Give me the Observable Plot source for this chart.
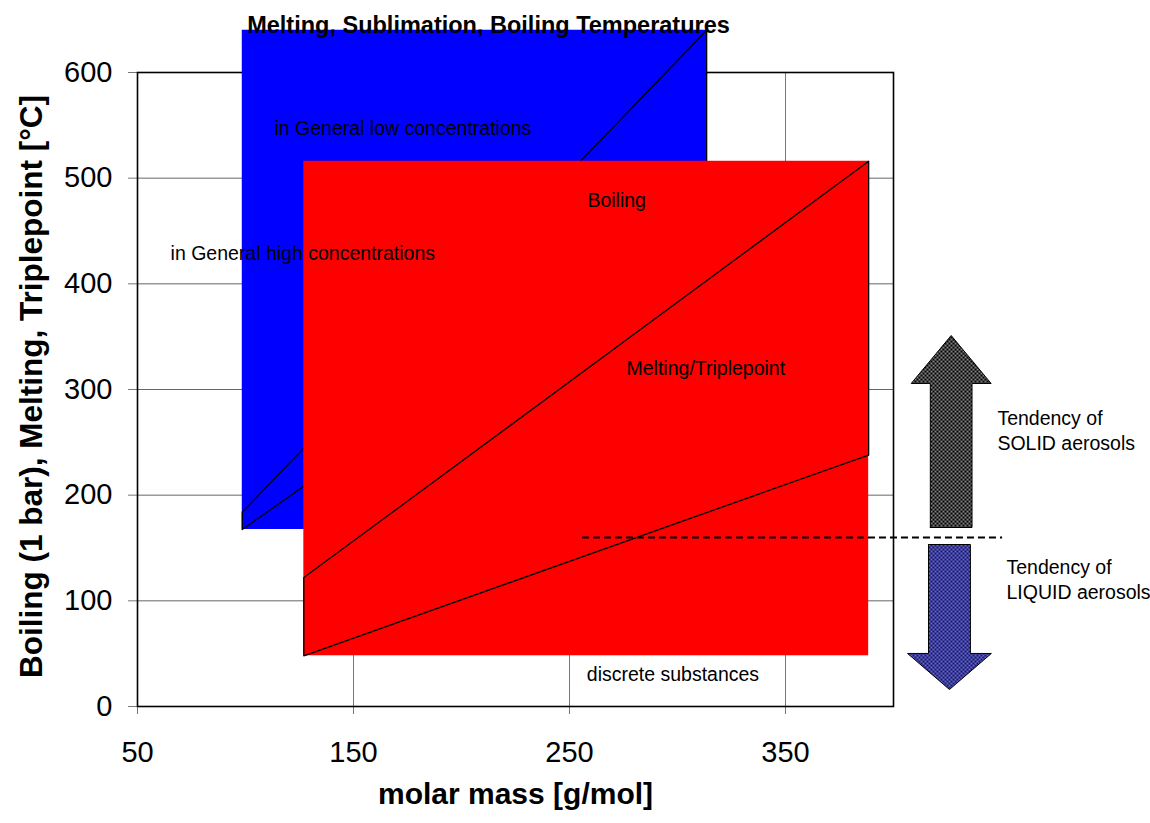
<!DOCTYPE html>
<html><head><meta charset="utf-8">
<script src="https://cdn.jsdelivr.net/npm/d3@7"></script>
<script src="https://cdn.jsdelivr.net/npm/@observablehq/plot@0.6"></script>
<style>
body{margin:0;background:#fff;}
#chart{position:absolute;left:0;top:0;}
</style></head><body><div id="chart"></div>
<script>
// ---- data ----
const xTicks = [50, 150, 250, 350];
const yTicks = [0, 100, 200, 300, 400, 500, 600];
const titleText = "Melting, Sublimation, Boiling Temperatures";
const xTitle = "molar mass [g/mol]";
const yTitle = "Boiling (1 bar), Melting, Triplepoint [\u00B0C]";

// concentration regions (molar mass range x temperature range)
const lowRegion = {x1: 98.5, x2: 313.5, y1: 167.5, y2: 640};
const highRegion = {x1: 127, x2: 388.5, y1: 48, y2: 516};
const regionColors = ["#0000ff", "#ff0000"];

// boiling / melting lines of each region
const boilingLow = [{x: 98.5, y: 184}, {x: 313.5, y: 640}];
const meltingLow = [{x: 98.5, y: 167.5}, {x: 313.5, y: 477}];
const boilingHigh = [{x: 127, y: 122}, {x: 388.5, y: 516}];
const meltingHigh = [{x: 127, y: 48}, {x: 388.5, y: 238}];

// solid/liquid threshold
const threshold = [{y: 160, x1: 256, x2: 450.5}];

// tendency arrows
const arrows = [
  {name: "solid", x: 426.7, base: 169.4, headBase: 305.7, tip: 351.1, shaftHalf: 9.65, headHalf: 18.5, fill: "url(#patGray)"},
  {name: "liquid", x: 425.9, base: 153.3, headBase: 50.2, tip: 16.1, shaftHalf: 9.7, headHalf: 19.4, fill: "url(#patBlue)"}
];

const labels = [
  {text: "in General low concentrations", x: 113.4, y: 547},
  {text: "in General high concentrations", x: 65.3, y: 428},
  {text: "Boiling", x: 258.3, y: 479},
  {text: "Melting/Triplepoint", x: 276.4, y: 320},
  {text: "discrete substances", x: 258, y: 30.3},
  {text: "Tendency of", x: 448.1, y: 272},
  {text: "SOLID aerosols", x: 448.1, y: 249},
  {text: "Tendency of", x: 452.3, y: 131.5},
  {text: "LIQUID aerosols", x: 452.3, y: 107.5}
];

// ---- derived shapes ----
const outline = (b, m) => [b[0], b[1], m[1], m[0], b[0]];
const arrowShape = (a) => [
  {x: a.x - a.shaftHalf, y: a.base},
  {x: a.x - a.shaftHalf, y: a.headBase},
  {x: a.x - a.headHalf, y: a.headBase},
  {x: a.x, y: a.tip},
  {x: a.x + a.headHalf, y: a.headBase},
  {x: a.x + a.shaftHalf, y: a.headBase},
  {x: a.x + a.shaftHalf, y: a.base},
  {x: a.x - a.shaftHalf, y: a.base}
];

const font = "'Liberation Sans', Arial, sans-serif";

const plot = Plot.plot({
  width: 1150,
  height: 823,
  marginLeft: 137,
  marginRight: 257,
  marginTop: 72,
  marginBottom: 117,
  x: {domain: [50, 400]},
  y: {domain: [0, 600]},
  style: {fontFamily: font, background: "#fff", overflow: "visible", color: "#000"},
  marks: [
    Plot.gridX(xTicks.slice(1), {stroke: "#777", strokeOpacity: 1, strokeWidth: 1}),
    Plot.gridY(yTicks.slice(1, -1), {stroke: "#666", strokeOpacity: 1, strokeWidth: 1}),
    Plot.axisX(xTicks, {tickSize: 8, tickPadding: 27, fontSize: 29, stroke: "#777", fill: "#000", label: null}),
    Plot.axisY(yTicks, {tickSize: 9, tickPadding: 16, fontSize: 29, stroke: "#777", fill: "#000", label: null}),
    Plot.frame({stroke: "#000", strokeWidth: 1.6}),
    Plot.rect([lowRegion], {x1: "x1", x2: "x2", y1: "y1", y2: "y2", fill: regionColors[0]}),
    Plot.line(outline(boilingLow, meltingLow), {x: "x", y: "y", stroke: "#000", strokeWidth: 1.3}),
    Plot.rect([highRegion], {x1: "x1", x2: "x2", y1: "y1", y2: "y2", fill: regionColors[1]}),
    Plot.line(outline(boilingHigh, meltingHigh), {x: "x", y: "y", stroke: "#000", strokeWidth: 1.3}),
    Plot.ruleY(threshold, {y: "y", x1: "x1", x2: "x2", stroke: "#000", strokeWidth: 2, strokeDasharray: "7,4"}),
    ...arrows.map(a => Plot.line(arrowShape(a), {x: "x", y: "y", fill: a.fill, stroke: "#000", strokeWidth: 1})),
    Plot.text(labels, {x: "x", y: "y", text: "text", textAnchor: "start", fontSize: 19.5, fill: "#000"}),
    Plot.text([titleText], {text: d => d, frameAnchor: "top", textAnchor: "middle", dx: -27, dy: -56, fontSize: 23.5, fontWeight: "bold", fill: "#000"}),
    Plot.text([xTitle], {text: d => d, frameAnchor: "bottom", textAnchor: "middle", dy: 97, fontSize: 30, fontWeight: "bold", fill: "#000"}),
    Plot.text([yTitle], {text: d => d, frameAnchor: "left", textAnchor: "middle", rotate: -90, dx: -106, dy: -3, fontSize: 31.5, fontWeight: "bold", fill: "#000"})
  ]
});

const defs = `
<pattern id="patGray" width="4" height="4" patternUnits="userSpaceOnUse">
  <rect width="4" height="4" fill="#000"/>
  <circle cx="1" cy="1" r="0.85" fill="#fff"/>
  <circle cx="3" cy="3" r="0.85" fill="#fff"/>
</pattern>
<pattern id="patBlue" width="4" height="4" patternUnits="userSpaceOnUse">
  <rect width="4" height="4" fill="#14147e"/>
  <circle cx="1" cy="1" r="0.85" fill="#b8b8ee"/>
  <circle cx="3" cy="3" r="0.85" fill="#b8b8ee"/>
</pattern>`;
d3.select(plot).insert("defs", ":first-child").html(defs);

document.getElementById("chart").appendChild(plot);
</script>
</body></html>
